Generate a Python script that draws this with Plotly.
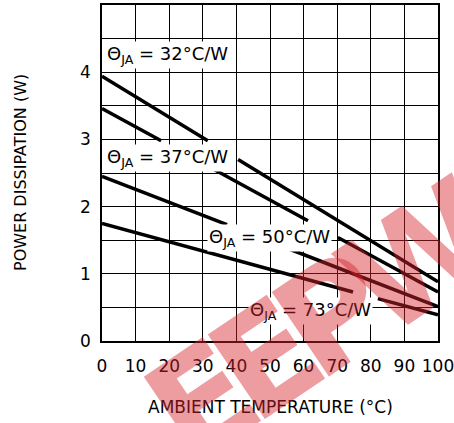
import plotly.graph_objects as go

# derating lines, break points (None = gap under a label)
x_32 = [0, 31.5, None, 40.5, 100]
y_32 = [3.94, 2.98, None, 2.70, 0.88]
x_37 = [0, 17.6, None, 32, 61.3, None, 70.2, 100]
y_37 = [3.46, 2.98, None, 2.59, 1.79, None, 1.54, 0.73]
x_50 = [0, 37.2, None, 53.6, 100]
y_50 = [2.45, 1.73, None, 1.41, 0.51]
x_73 = [0, 74.7, None, 82.1, 100]
y_73 = [1.75, 0.73, None, 0.63, 0.39]

x_ticks = list(range(0, 101, 10))
y_ticks = [0, 0.5, 1, 1.5, 2, 2.5, 3, 3.5, 4, 4.5]
y_ticktext = ["0", "", "1", "", "2", "", "3", "", "4", ""]

labels = ["32", "37", "50", "73"]
label_x = [0.8, 0.8, 31.2, 43.4]
label_y = [4.25, 2.73, 1.53, 0.45]

# watermark letters and their centres (paper coords)
wm_letters = ["E", "E", "P", "W"]
wm_x = [0.30, 0.49, 0.69, 0.95]
wm_y = [-0.18, -0.055, 0.08, 0.25]

FONT = "DejaVu Sans"

fig = go.Figure()
for xs, ys in [(x_32, y_32), (x_37, y_37), (x_50, y_50), (x_73, y_73)]:
    fig.add_trace(go.Scatter(x=xs, y=ys, mode="lines", connectgaps=False,
                             line=dict(color="black", width=3.5),
                             showlegend=False, hoverinfo="skip"))

for t, lx, ly in zip(labels, label_x, label_y):
    fig.add_annotation(x=lx, y=ly, xref="x", yref="y", xanchor="left", yanchor="middle",
                       text=f"Θ<sub>JA</sub> = {t}°C/W", showarrow=False,
                       bgcolor="white", borderpad=1,
                       font=dict(family=FONT, size=18, color="black"))

fig.add_annotation(x=-0.244, y=0.5, xref="paper", yref="paper", textangle=-90,
                   xanchor="center", yanchor="middle",
                   text="POWER DISSIPATION (W)", showarrow=False,
                   font=dict(family=FONT, size=16, color="black"))
fig.add_annotation(x=0.5, y=-0.196, xref="paper", yref="paper",
                   xanchor="center", yanchor="middle",
                   text="AMBIENT TEMPERATURE (°C)", showarrow=False,
                   font=dict(family=FONT, size=17, color="black"))

# red site watermark over the chart
for ch, wx, wy in zip(wm_letters, wm_x, wm_y):
    fig.add_annotation(x=wx, y=wy, xref="paper", yref="paper", textangle=-34,
                       xanchor="center", yanchor="middle",
                       text=f"<b>{ch}</b>", showarrow=False,
                       font=dict(family=FONT, size=140, color="rgba(215,35,45,0.45)"))

axis_common = dict(showgrid=True, gridcolor="black", gridwidth=1,
                   showline=True, linecolor="black", linewidth=1.5, mirror=True,
                   zeroline=False, ticks="", automargin=False,
                   ticklabeloverflow="allow",
                   tickfont=dict(family=FONT, size=17, color="black"))

fig.update_xaxes(range=[0, 100], tickvals=x_ticks, ticklabelstandoff=9, **axis_common)
fig.update_yaxes(range=[0, 5], tickvals=y_ticks, ticktext=y_ticktext,
                 ticklabelstandoff=6, **axis_common)

fig.update_layout(width=454, height=423,
                  margin=dict(l=102, r=16, t=5, b=82, autoexpand=False),
                  plot_bgcolor="white", paper_bgcolor="white")

# page body has an 8px default margin; drop it so the figure sits at the corner
fig.write_html("out.html", config={"displayModeBar": False},
               post_script="document.body.style.margin='0';")
